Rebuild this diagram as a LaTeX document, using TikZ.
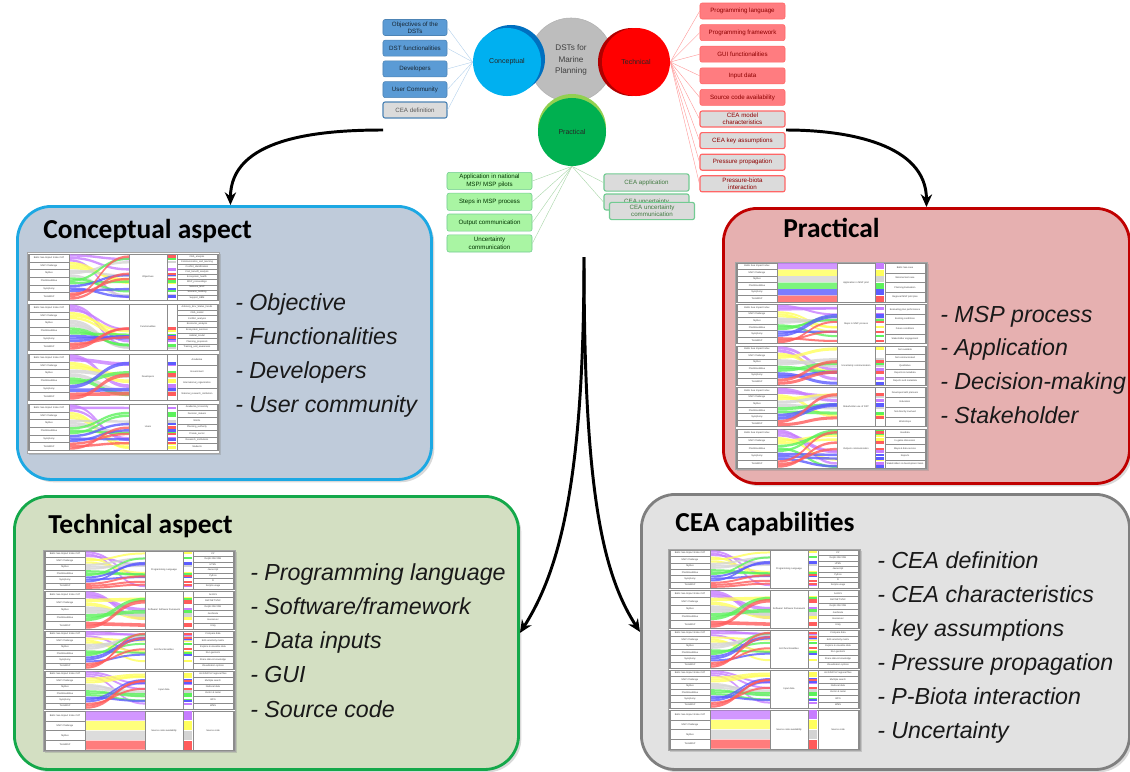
\documentclass[tikz,border=0pt]{standalone}
\usepackage{fontspec}
\setmainfont{Liberation Sans}
\newfontfamily\headfont{Carlito}
\usetikzlibrary{arrows.meta,positioning,shadows}
\definecolor{hubgray}{HTML}{BDBDBD}
\definecolor{cblue}{HTML}{00B0F0}
\definecolor{cbluedark}{HTML}{0070C0}
\definecolor{cred}{HTML}{FF0000}
\definecolor{creddark}{HTML}{B00000}
\definecolor{cgreen}{HTML}{00B050}
\definecolor{cgreenlight}{HTML}{92D050}
\definecolor{tagblue}{HTML}{5B9BD5}
\definecolor{tagred}{HTML}{FF7C80}
\definecolor{taggreen}{HTML}{A9F5A3}
\definecolor{boxblue}{HTML}{BFCBDA}
\definecolor{boxred}{HTML}{E6B0B0}
\definecolor{boxgreen}{HTML}{D3DFC2}
\definecolor{boxgray}{HTML}{E2E2E2}
\definecolor{edgeblue}{HTML}{1CA8E3}
\definecolor{edgered}{HTML}{C00000}
\definecolor{edgegreen}{HTML}{14A84A}
\definecolor{edgegray}{HTML}{7F7F7F}
\definecolor{vpurple}{HTML}{C77DFF}
\definecolor{vyellow}{HTML}{FFFF5C}
\definecolor{vgray}{HTML}{D4D4D4}
\definecolor{vgreen}{HTML}{5CF25C}
\definecolor{vblue}{HTML}{5C5CFF}
\definecolor{vred}{HTML}{FF5C5C}

% tools on the left of every flow block
\def\srcsix{Baltic Sea Impact Index CAT/vpurple, MSP Challenge/vyellow, Mytilus/vgray, PlanWise4Blue/vgreen, Symphony/vblue, ToolsMSP/vred}
\def\srcpract{Baltic Sea Impact Index/vpurple, MSP Challenge/vyellow, Mytilus/vgray, PlanWise4Blue/vgreen, Symphony/vblue, ToolsMSP/vred}
\def\srcfivea{Baltic Sea Impact Index CAT/vpurple, MSP Challenge/vyellow, Mytilus/vgray, PlanWise4Blue/vgreen, ToolsMSP/vred}
\def\srcfiveb{Baltic Sea Impact Index/vpurple, MSP Challenge/vyellow, PlanWise4Blue/vgreen, Symphony/vblue, ToolsMSP/vred}
\def\srcfour{Baltic Sea Impact Index CAT/vpurple, MSP Challenge/vyellow, Mytilus/vgray, ToolsMSP/vred}

% one flow block: #1 top left, #2 height, #3 middle label, #4 sources, #5 targets, #6 bands per source
\newcommand{\panel}[6]{%
\begin{scope}[shift={#1}]
  \foreach \s [count=\cnt] in #4 {\xdef\nsrc{\cnt}}
  \foreach \s [count=\cnt] in {#5} {\xdef\ntgt{\cnt}}
  \pgfmathsetmacro\srch{#2/\nsrc}
  \pgfmathsetmacro\tgth{#2/\ntgt}
  \pgfmathsetmacro\bw{0.94*\srch/#6}
  \draw[cell, fill=white] (0,0) rectangle (190,#2);
  \foreach \lab/\col [count=\i] in #4 {
    \foreach \j in {1,...,#6} {
      \pgfmathsetmacro\ya{(\i-0.97)*\srch+(\j-1)*\bw}
      \pgfmathsetmacro\yb{#6==1 ? \ya : rnd*(#2-\bw)}
      \fill[\col, opacity=.8] (41,\ya) .. controls (71,\ya) and (71,\yb) .. (101,\yb)
        -- (101,\yb+\bw) .. controls (71,\yb+\bw) and (71,\ya+\bw) .. (41,\ya+\bw) -- cycle;
      \fill[\col] (140,\yb) rectangle (148,\yb+\bw);
    }
    \draw[cell] (1,{(\i-1)*\srch}) rectangle (41,{\i*\srch});
    \node[chart text] (lab\i) at (21,{(\i-.5)*\srch}) {\lab};
  }
  \draw[cell] (101,0) rectangle (139,#2);
  \node[chart text, text width=0.9cm] (mid) at (120,#2/2) {#3};
  \foreach \lab [count=\j] in {#5} {
    \draw[cell] (149,{(\j-1)*\tgth}) rectangle (189,{\j*\tgth});
    \node[chart text] (tgt\j) at (169,{(\j-.5)*\tgth}) {\lab};
  }
\end{scope}}

% the technical chart, used twice
\newcommand{\toolchart}[2]{%
  \pgfmathsetseed{11}
  \draw[chart] (#1,#2) rectangle ++(192,201);
  \panel{(#1+1,#2+1)}{38}{Programming Language}{\srcsix}{C\#, Delphi XE2 IDE, HTML, Javascript, Python, R, Scripts usage}{3}
  \panel{(#1+1,#2+41)}{38}{Software/ Software framework}{\srcfivea}{ArcGIS, ASP.NET MVC, Delphi XE2 IDE, GeoNode, Geoserver, Unity}{2}
  \panel{(#1+1,#2+81)}{38}{GUI functionalities}{\srcsix}{Compare data, Edit sensitivity matrix, Explore \& visualize data, Run geotools, Share data \& knowledge, Visualization options}{3}
  \panel{(#1+1,#2+121)}{38}{Input data}{\srcsix}{ArcGIS/CSV regional files, Multiple search, National data, Vector \& raster, WFS, WMS}{3}
  \panel{(#1+1,#2+161)}{39}{Source code availability}{\srcfour}{Source code}{1}
}

\begin{document}
\begin{tikzpicture}[
    x=0.025cm, y=-0.025cm,
    >=Stealth,
    hub/.style={circle, fill=hubgray, draw=black!30, minimum size=2.1cm, inner sep=0, align=center, font=\fontsize{5.8}{8}\selectfont, text=black!75},
    aspectc/.style={circle, fill=#1, minimum size=1.7cm, inner sep=0, font=\fontsize{5}{6}\selectfont, text=black!85},
    tag/.style={rounded corners=1.5pt, minimum height=0.4cm, inner sep=0.5pt, align=center, font=\fontsize{4.4}{5.2}\selectfont, line width=0.4pt},
    btag/.style={tag, fill=tagblue, draw=tagblue!85!black, text=tagblue!25!black, minimum width=1.6cm},
    rtag/.style={tag, fill=tagred, draw=red!60, text=red!55!black, minimum width=2.125cm},
    gtag/.style={tag, fill=taggreen, draw=edgegreen!60, text=green!20!black, minimum width=2.125cm, minimum height=0.43cm},
    cea/.style={fill=black!14, line width=0.8pt},
    link/.style={line width=0.3pt, draw=#1},
    aspect/.style={draw=edge#1, fill=box#1, line width=2pt, rounded corners=0.85cm, anchor=north west, drop shadow={opacity=0.3, shadow xshift=2pt, shadow yshift=-2pt}},
    title/.style={font=\headfont\bfseries\fontsize{19.5}{23}\selectfont, anchor=base west, inner sep=0},
    bullet/.style={font=\fontsize{16.5}{19}\selectfont\itshape, text=black!90, anchor=base west, inner sep=0},
    chart/.style={draw=black!35, fill=white, line width=0.4pt, drop shadow={opacity=0.3, shadow xshift=1.5pt, shadow yshift=-1.5pt}},
    cell/.style={draw=black!45, line width=0.2pt},
    chart text/.style={font=\fontsize{1.7}{2}\selectfont, text=black!75, inner sep=0, align=center},
    bigarrow/.style={-{Stealth[length=9pt, width=8pt]}, line width=2.1pt},
]
\useasboundingbox (0,0) rectangle (1130,771);

% Aspect boxes
\node[aspect=blue, minimum width=10.35cm, minimum height=6.825cm] (conbox) at (16,205) {};
\node[aspect=red, minimum width=10.15cm, minimum height=6.875cm] (prabox) at (722,207) {};
\node[aspect=green, minimum width=12.6cm, minimum height=6.825cm] (tecbox) at (13,495) {};
\node[aspect=gray, minimum width=12.2cm, minimum height=6.875cm] (ceabox) at (640,493) {};

\node[title] (cont) at (43,238) {Conceptual aspect};
\node[title] (prat) at (783,237) {Practical};
\node[title] (tect) at (48,533) {Technical aspect};
\node[title] (ceat) at (675,531) {CEA capabilities};

% Conceptual chart
\pgfmathsetseed{3}
\draw[chart] (27,252) rectangle ++(192,201);
\panel{(28,254)}{46}{Objectives}{\srcsix}{CEA\_analysis, Communication\_and\_learning, Conflict\_identification, Cost\_benefit\_analysis, Ecosystem\_health, MSP\_proceedings, National\_MSP, Scenario\_building, Support\_EBM}{3}
\panel{(28,304)}{46}{Functionalities}{\srcsix}{Advisory\_Env\_Status\_trends, CEA\_model, Conflict\_analysis, Economic\_analysis, Ecosystem\_services, Habitat\_model, Planning\_proposals, Training\_and\_awareness}{3}
\panel{(28,354)}{46}{Developers}{\srcsix}{Academia, Government, International\_organization, National\_research\_institution}{2}
\panel{(28,404)}{46}{Users}{\srcsix}{Academia\_University, Decision\_makers, NGOs, Planning\_authority, Private\_sector, Research\_institutions, Students}{3}

% Practical chart
\pgfmathsetseed{5}
\draw[chart] (735,262) rectangle ++(192,207);
\panel{(736,263)}{39}{Application in MSP pilot}{\srcpract}{Baltic Sea case, National test case, Planning Evaluation, Regional MSP pilot plan}{1}
\panel{(736,304.5)}{39}{Steps in MSP process}{\srcpract}{Evaluating plan performance, Existing conditions, Future conditions, Stakeholder engagement}{3}
\panel{(736,346)}{39}{Uncertainty communication}{\srcpract}{Not available, Not communicated, Qualitative, Reports \& metadata, Reports and metadata}{2}
\panel{(736,387.5)}{39}{Stakeholder use of DST}{\srcpract}{Developed with planners, Education, Not directly involved, Workshops}{2}
\panel{(736,429)}{39}{Outputs communication}{\srcfiveb}{Geodata, In-game discussion, Maps \& data service, Reports, Stakeholders in development team}{3}

% Technical and CEA charts
\toolchart{43}{550}
\toolchart{668}{549}

% Bullet lists
\foreach \txt [count=\i] in {Objective, Functionalities, Developers, User community}
  \node[bullet] (cb\i) at (235,{276+34*\i}) {- \txt};
\foreach \txt [count=\i] in {MSP process, Application, Decision-making, Stakeholder}
  \node[bullet] (pb\i) at (940,{288.3+33.7*\i}) {- \txt};
\foreach \txt [count=\i] in {Programming language, Software/framework, Data inputs, GUI, Source code}
  \node[bullet] (tb\i) at (250,{545.75+34.25*\i}) {- \txt};
\foreach \txt [count=\i] in {CEA definition, CEA characteristics, key assumptions, Pressure propagation, P-Biota interaction, Uncertainty}
  \node[bullet] (eb\i) at (877,{534+34*\i}) {- \txt};

% Mind map
\node[hub] (dst) at (571,60) {DSTs for\\Marine\\Planning};
\fill[cbluedark] (511,59) circle[radius=0.85cm];
\fill[creddark] (632,62) circle[radius=0.85cm];
\fill[cgreenlight] (572,128) circle[radius=0.85cm];
\node[aspectc=cblue] (conc) at (507,62) {Conceptual};
\node[aspectc=cred] (tech) at (636,62) {Technical};
\node[aspectc=cgreen] (prac) at (572,132) {Practical};

\foreach \txt [count=\i] in {Objectives of the\\DSTs, DST functionalities, Developers, User Community}
  \node[btag] (tagb\i) at (415,{6.8+20.7*\i}) {\txt};
\node[btag, cea, text=black!65] (tagb5) at (415,110) {CEA definition};

\foreach \txt [count=\i] in {Programming language, Programming framework, GUI functionalities, Input data, Source code availability}
  \node[rtag] (tagr\i) at (742.5,{-10.6+21.6*\i}) {\txt};
\foreach \txt [count=\i from 6] in {CEA model\\characteristics, CEA key assumptions, Pressure propagation, Pressure-biota\\interaction}
  \node[rtag, cea] (tagr\i) at (742.5,{-10.6+21.6*\i}) {\txt};

\foreach \txt [count=\i] in {Application in national\\MSP/ MSP pilots, Steps in MSP process, Output communication, Uncertainty\\communication}
  \node[gtag] (tagg\i) at (489.5,{160.2+20.8*\i}) {\txt};
\node[gtag, cea, text=green!30!black!75] (tagg5) at (646.5,182.5) {CEA application};
\node[gtag, cea, text=green!30!black!75, minimum height=0.4cm] (tagg6) at (646.5,202) {CEA uncertainty};
\node[gtag, cea, text=green!30!black!75] (tagg7) at (652,211) {CEA uncertainty\\communication};

\foreach \i in {1,...,5} \draw[link=tagblue!45] (tagb\i.east) -- (conc.west);
\foreach \i in {1,...,9} \draw[link=red!40] (tech.east) -- (tagr\i.west);
\foreach \i in {1,...,4} \draw[link=green!35!gray!50] (prac.south) -- (tagg\i.east);
\foreach \i in {5,6} \draw[link=green!35!gray!50] (prac.south) -- (tagg\i.west);

% Arrows
\coordinate (lstart) at (383,130);
\coordinate (rstart) at (786,130);
\coordinate (fork) at (584,257);
\draw[bigarrow] (lstart) to[out=180, in=90] ([xshift=0.15cm]conbox.north);
\draw[bigarrow] (rstart) to[out=0, in=90] (prabox.north);
\draw[bigarrow] (fork) .. controls (584,480) and (560,570) .. (tecbox.east);
\draw[bigarrow] (fork) .. controls (584,480) and (600,570) .. (ceabox.west);

\end{tikzpicture}
\end{document}
